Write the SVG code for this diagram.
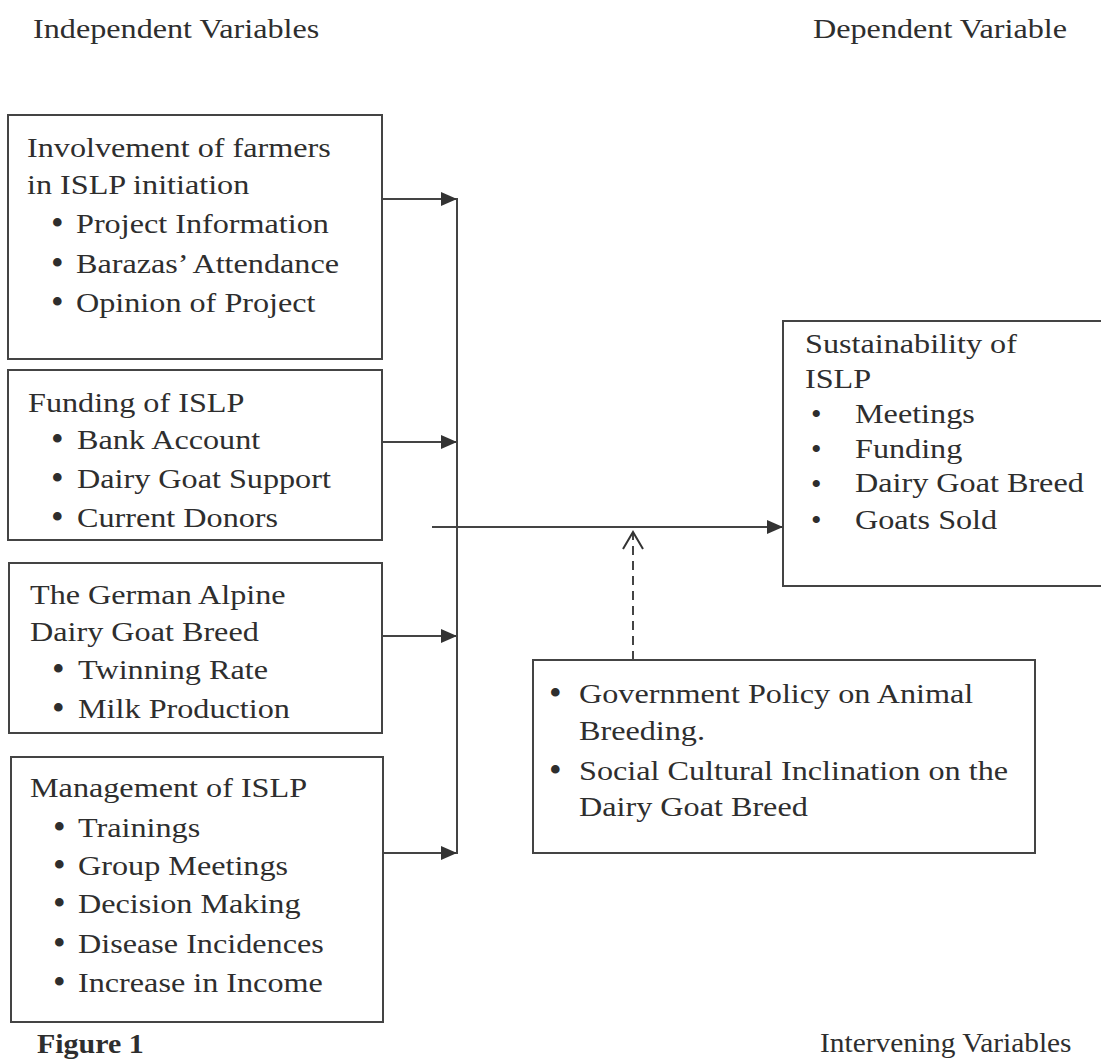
<svg xmlns="http://www.w3.org/2000/svg" width="1101" height="1062" viewBox="0 0 1101 1062">
<style>
.t{font-family:"Liberation Serif","Times New Roman",serif;font-size:28px;fill:#2e2e2e}
.bu{font-family:"Liberation Serif","Times New Roman",serif;font-size:36px;fill:#2e2e2e}
.bs{font-family:"Liberation Serif","Times New Roman",serif;font-size:30px;fill:#2e2e2e}
.b{font-weight:bold}
.box{fill:#fff;stroke:#444;stroke-width:2}
.ln{fill:none;stroke:#444;stroke-width:2}
.dash{fill:none;stroke:#444;stroke-width:2;stroke-dasharray:9 6}
</style>
<defs>
<marker id="ah" markerUnits="userSpaceOnUse" markerWidth="17" markerHeight="14" refX="16" refY="7" orient="auto" viewBox="0 0 17 14">
<path d="M0,0 L16,7 L0,14 z" fill="#333"/>
</marker>
<marker id="oh" markerUnits="userSpaceOnUse" markerWidth="22" markerHeight="24" refX="19" refY="11" orient="auto" viewBox="0 0 22 22">
<path d="M2,1 L19,11 L2,21" fill="none" stroke="#333" stroke-width="2"/>
</marker>
</defs>
<rect width="1101" height="1062" fill="#fff"/>

<g id="headers">
<text class="t" transform="translate(33 38) scale(1.15 1)">Independent Variables</text>
<text class="t" transform="translate(813 38) scale(1.15 1)">Dependent Variable</text>
<text class="t" transform="translate(820 1052) scale(1.05 1)">Intervening Variables</text>
<text class="t b" transform="translate(37 1053) scale(1.07 1)">Figure 1</text>
</g>

<g id="n1">
<rect class="box" x="8" y="115" width="374" height="244"/>
<text class="t" transform="translate(27 157) scale(1.15 1)">Involvement of farmers</text>
<text class="t" transform="translate(27 194) scale(1.15 1)">in ISLP initiation</text>
<text class="bu" transform="translate(51 235)">•</text>
<text class="t" transform="translate(76 233) scale(1.15 1)">Project Information</text>
<text class="bu" transform="translate(51 275)">•</text>
<text class="t" transform="translate(76 273) scale(1.15 1)">Barazas’ Attendance</text>
<text class="bu" transform="translate(51 314)">•</text>
<text class="t" transform="translate(76 312) scale(1.15 1)">Opinion of Project</text>
</g>

<g id="n2">
<rect class="box" x="8" y="370" width="374" height="170"/>
<text class="t" transform="translate(28 412) scale(1.15 1)">Funding of ISLP</text>
<text class="bu" transform="translate(51 451)">•</text>
<text class="t" transform="translate(77 449) scale(1.15 1)">Bank Account</text>
<text class="bu" transform="translate(51 490)">•</text>
<text class="t" transform="translate(77 488) scale(1.15 1)">Dairy Goat Support</text>
<text class="bu" transform="translate(51 529)">•</text>
<text class="t" transform="translate(77 527) scale(1.15 1)">Current Donors</text>
</g>

<g id="n3">
<rect class="box" x="9" y="563" width="373" height="170"/>
<text class="t" transform="translate(30 604) scale(1.15 1)">The German Alpine</text>
<text class="t" transform="translate(30 641) scale(1.15 1)">Dairy Goat Breed</text>
<text class="bu" transform="translate(52 681)">•</text>
<text class="t" transform="translate(78 679) scale(1.15 1)">Twinning Rate</text>
<text class="bu" transform="translate(52 720)">•</text>
<text class="t" transform="translate(78 718) scale(1.15 1)">Milk Production</text>
</g>

<g id="n4">
<rect class="box" x="11" y="757" width="372" height="265"/>
<text class="t" transform="translate(30 797) scale(1.15 1)">Management of ISLP</text>
<text class="bu" transform="translate(53 839)">•</text>
<text class="t" transform="translate(78 837) scale(1.15 1)">Trainings</text>
<text class="bu" transform="translate(53 877)">•</text>
<text class="t" transform="translate(78 875) scale(1.15 1)">Group Meetings</text>
<text class="bu" transform="translate(53 915)">•</text>
<text class="t" transform="translate(78 913) scale(1.15 1)">Decision Making</text>
<text class="bu" transform="translate(53 955)">•</text>
<text class="t" transform="translate(78 953) scale(1.15 1)">Disease Incidences</text>
<text class="bu" transform="translate(53 994)">•</text>
<text class="t" transform="translate(78 992) scale(1.15 1)">Increase in Income</text>
</g>

<g id="dependent">
<rect class="box" x="783" y="321" width="330" height="265"/>
<text class="t" transform="translate(805 353) scale(1.15 1)">Sustainability of</text>
<text class="t" transform="translate(805 388) scale(1.15 1)">ISLP</text>
<text class="bs" transform="translate(811 424)">•</text>
<text class="t" transform="translate(855 423) scale(1.15 1)">Meetings</text>
<text class="bs" transform="translate(811 459)">•</text>
<text class="t" transform="translate(855 458) scale(1.15 1)">Funding</text>
<text class="bs" transform="translate(811 494)">•</text>
<text class="t" transform="translate(855 492) scale(1.15 1)">Dairy Goat Breed</text>
<text class="bs" transform="translate(811 530)">•</text>
<text class="t" transform="translate(855 529) scale(1.15 1)">Goats Sold</text>
</g>

<g id="intervening">
<rect class="box" x="533" y="660" width="502" height="193"/>
<text class="bu" transform="translate(549 705)">•</text>
<text class="t" transform="translate(579 703) scale(1.15 1)">Government Policy on Animal</text>
<text class="t" transform="translate(579 740) scale(1.15 1)">Breeding.</text>
<text class="bu" transform="translate(549 782)">•</text>
<text class="t" transform="translate(579 780) scale(1.15 1)">Social Cultural Inclination on the</text>
<text class="t" transform="translate(579 816) scale(1.15 1)">Dairy Goat Breed</text>
</g>

<g id="connectors">
<line class="ln" x1="382" y1="199" x2="457" y2="199" marker-end="url(#ah)"/>
<line class="ln" x1="382" y1="442" x2="457" y2="442" marker-end="url(#ah)"/>
<line class="ln" x1="382" y1="636" x2="457" y2="636" marker-end="url(#ah)"/>
<line class="ln" x1="383" y1="853" x2="457" y2="853" marker-end="url(#ah)"/>
<line class="ln" x1="457" y1="198" x2="457" y2="854"/>
<line class="ln" x1="432" y1="527" x2="783" y2="527" marker-end="url(#ah)"/>
<line class="dash" x1="633" y1="660" x2="633" y2="532" marker-end="url(#oh)"/>
</g>
</svg>
